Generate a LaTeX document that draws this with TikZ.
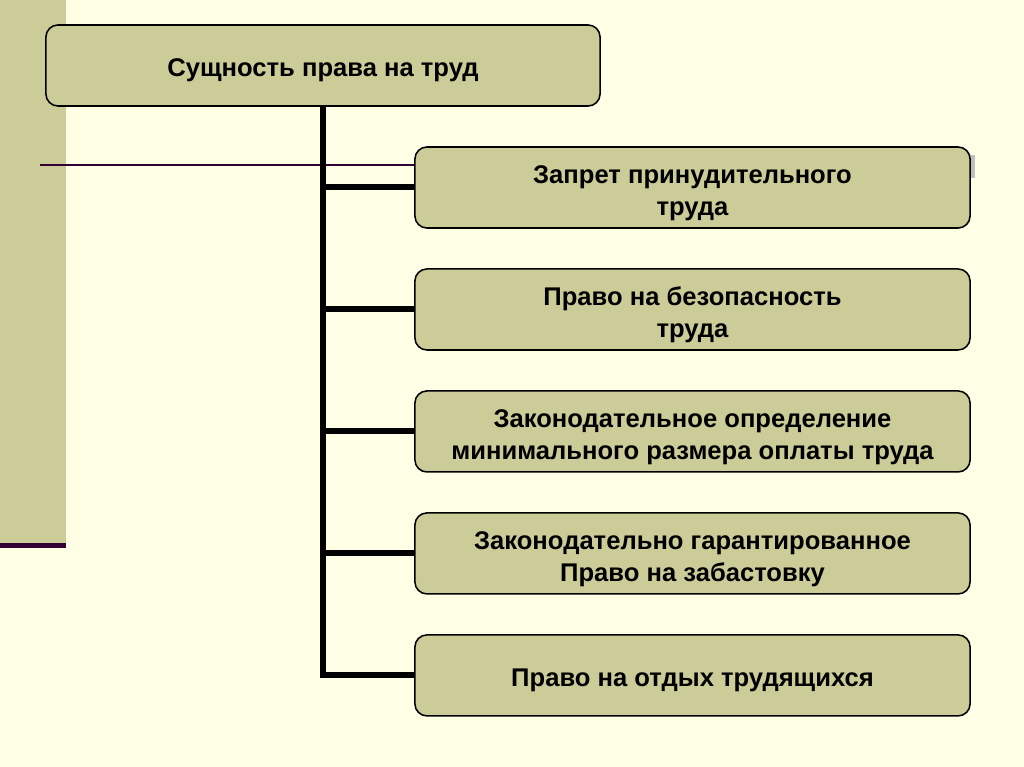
\documentclass[tikz,border=0pt]{standalone}
\usepackage{fontspec}
\setmainfont{Liberation Sans}
\usetikzlibrary{positioning}
\definecolor{paper}{HTML}{FFFFE5}
\definecolor{khaki}{HTML}{CCCC99}
\definecolor{plum}{HTML}{330033}
\tikzset{
  topbox/.style={draw, fill=khaki, rounded corners=0.3cm, line width=1.1pt,
    minimum width=13.85cm, minimum height=2.025cm, align=center,
    font=\fontsize{18.2}{23}\selectfont\bfseries, text height=20pt},
  itembox/.style={topbox, minimum width=13.875cm, text height=43.5pt},
  oneline/.style={text height=20pt},
  branch/.style={line width=0.15cm}
}
\begin{document}
\begin{tikzpicture}[x=0.025cm, y=-0.025cm, node distance=0.985cm]
    % page and the left strip
    \fill[paper] (0,0) rectangle (1024,767);
    \useasboundingbox (0,0) rectangle (1024,767);
    \fill[khaki] (0,0) rectangle (66,543);
    \fill[plum] (0,543) rectangle (66,548);
    % the thin rule behind the boxes
    \draw[plum, line width=1.4pt] (40,165) -- (975,165);
    \fill[gray!50] (970,155) rectangle (975,178);
    % the heading box
    \node[topbox] (essence) at (323,65.5) {Сущность права на труд};
    % the five items
    \node[itembox] (forced) at (692.5,187.5) {Запрет принудительного\\труда};
    \node[itembox, below=of forced] (safety) {Право на безопасность\\труда};
    \node[itembox, below=of safety] (wage) {Законодательное определение\\минимального размера оплаты труда};
    \node[itembox, below=of wage] (strike) {Законодательно гарантированное\\Право на забастовку};
    \node[itembox, oneline, below=of strike] (rest) {Право на отдых трудящихся};
    % the spine and its branches
    \draw[branch] (essence.south) |- (rest.west);
    \foreach \item in {forced, safety, wage, strike}
        \draw[branch] (essence.south |- \item.west) -- (\item.west);
\end{tikzpicture}
\end{document}
